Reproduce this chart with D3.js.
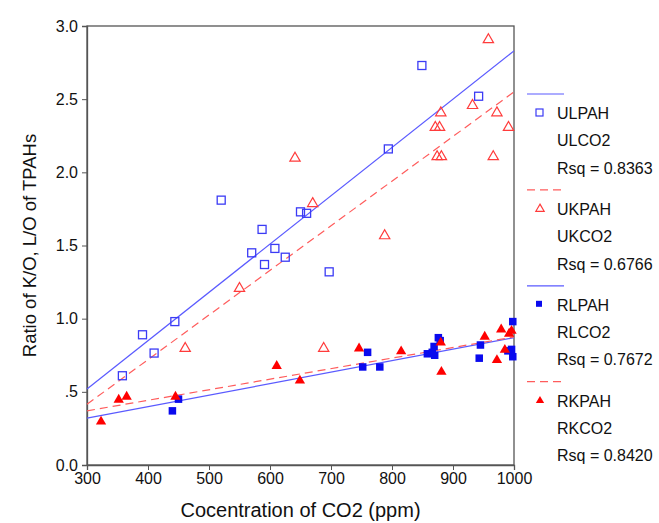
<html>
<head>
<script src="https://cdn.jsdelivr.net/npm/d3@7"></script>
<style>
  body { margin: 0; background: #fff; }
  text { font-family: Arial, "Liberation Sans", sans-serif; }
</style>
</head>
<body>
<script>
// points: [CO2 ppm, ratio]
var ulpah = [[358,0.61],[391,0.89],[410,0.765],[444,0.98],[520,1.81],[570,1.45],[587,1.61],[591,1.37],
             [608,1.48],[625,1.42],[650,1.73],[660,1.72],[697,1.32],[794,2.16],[849,2.73],[942,2.52]]
var ukpah = [[461,0.80],[550,1.21],[641,2.10],[670,1.79],[688,0.80],[788,1.57],[871,2.31],[874,2.11],
             [878,2.31],[880,2.41],[881,2.11],[932,2.46],[958,2.91],[966,2.11],[972,2.41],[991,2.31]]
var rlpah = [[440,0.37],[450,0.45],[752,0.67],[760,0.77],[780,0.67],[858,0.76],[866,0.77],[869,0.81],
             [870,0.75],[876,0.87],[879,0.85],[943,0.73],[945,0.82],[990,0.78],[996,0.79],[998,0.98],[998,0.74]]
var rkpah = [[323,0.30],[352,0.45],[365,0.47],[445,0.47],[611,0.68],[649,0.58],[746,0.80],[815,0.78],
             [880,0.84],[881,0.64],[952,0.88],[972,0.72],[979,0.93],[985,0.79],[992,0.90],[996,0.92]]

// fit lines (ends at 300 and 1000 ppm)
var fitUL = [[300,0.52],[1000,2.83]]
var fitUK = [[300,0.415],[1000,2.55]]
var fitRL = [[300,0.32],[1000,0.87]]
var fitRK = [[300,0.37],[1000,0.875]]

var xTicks = [300,400,500,600,700,800,900,1000]
var yTicks = [0,0.5,1,1.5,2,2.5,3]
var legendNames = [['ULPAH','ULCO2','Rsq = 0.8363'],['UKPAH','UKCO2','Rsq = 0.6766'],
                   ['RLPAH','RLCO2','Rsq = 0.7672'],['RKPAH','RKCO2','Rsq = 0.8420']]

var W = 659, H = 523
var margin = {top:26, left:87, right:145, bottom:58}

var blue = '#3b3bf5', red = '#ff3b3b'
var blueLine = '#5a5aff', redLine = '#ff5c5c'

var svg = d3.select('body').append('svg').attr('width',W).attr('height',H)

var x = d3.scaleLinear().domain([300,1000]).range([margin.left, W-margin.right])
var y = d3.scaleLinear().domain([0,3]).range([H-margin.bottom, margin.top])

// frame
svg.append('rect')
  .attr('x',x(300)).attr('y',y(3))
  .attr('width',x(1000)-x(300)).attr('height',y(0)-y(3))
  .attr('fill','none').attr('stroke','#555').attr('stroke-width',1.3)

var fmtY = function(d){ return d===0.5 ? '.5' : d3.format('.1f')(d) }

var gx = svg.append('g').attr('transform','translate(0,'+y(0)+')')
  .call(d3.axisBottom(x).tickValues(xTicks).tickFormat(d3.format('d')).tickSize(5).tickPadding(3))
var gy = svg.append('g').attr('transform','translate('+x(300)+',0)')
  .call(d3.axisLeft(y).tickValues(yTicks).tickFormat(fmtY).tickSize(5).tickPadding(4))
;[gx,gy].forEach(function(g){
  g.select('.domain').attr('stroke','#555').attr('stroke-width',1.3)
  g.selectAll('.tick line').attr('stroke','#555')
  g.selectAll('.tick text').attr('font-size',16).attr('fill','#111')
    .style('font-family','Arial, "Liberation Sans", sans-serif')
})

svg.append('text').attr('x',(x(300)+x(1000))/2).attr('y',517)
  .attr('text-anchor','middle').attr('font-size',20).attr('fill','#111')
  .text('Cocentration of CO2 (ppm)')
svg.append('text').attr('transform','translate(36,'+((y(0)+y(3))/2)+') rotate(-90)')
  .attr('text-anchor','middle').attr('font-size',18.5).attr('fill','#111')
  .text('Ratio of K/O, L/O of TPAHs')

var line = d3.line().x(d=>x(d[0])).y(d=>y(d[1]))

function fit(data, col, dashed){
  svg.append('path').datum(data).attr('d',line).attr('fill','none')
    .attr('stroke',col).attr('stroke-width',1.2)
    .attr('stroke-dasharray',dashed ? '8,5' : null)
}
fit(fitUL, blueLine, false)
fit(fitUK, redLine, true)
fit(fitRL, blueLine, false)
fit(fitRK, redLine, true)

var tri = d3.symbol().type(d3.symbolTriangle).size(46)

function squares(data, filled, sz){
  svg.append('g').selectAll('rect').data(data).enter().append('rect')
    .attr('x',d=>x(d[0])-sz/2).attr('y',d=>y(d[1])-sz/2)
    .attr('width',sz).attr('height',sz)
    .attr('fill',filled ? '#0a0aee' : 'none')
    .attr('stroke',filled ? 'none' : blue).attr('stroke-width',1.3)
}
function triangles(data, filled){
  svg.append('g').selectAll('path').data(data).enter().append('path')
    .attr('d',tri).attr('transform',d=>'translate('+x(d[0])+','+(y(d[1])+0.5)+')')
    .attr('fill',filled ? '#f00' : 'none')
    .attr('stroke',filled ? 'none' : red).attr('stroke-width',1.2)
}
squares(ulpah, false, 8)
triangles(ukpah, false)
squares(rlpah, true, 7.5)
triangles(rkpah, true)

// legend
var lx = 527
legendNames.forEach(function(names, i){
  var top = 94 + i*95.9
  var col = i%2===0 ? blueLine : redLine
  svg.append('line').attr('x1',lx).attr('x2',lx+37).attr('y1',top).attr('y2',top)
    .attr('stroke',col).attr('stroke-width',1.2)
    .attr('stroke-dasharray',i%2===0 ? null : '8,5')
  var sy = top + 21
  if (i===0) svg.append('rect').attr('x',536).attr('y',sy-6).attr('width',7).attr('height',7)
    .attr('fill','none').attr('stroke',blue).attr('stroke-width',1.2)
  if (i===1) svg.append('path').attr('d',d3.symbol().type(d3.symbolTriangle).size(30))
    .attr('transform','translate(540,'+(sy-2)+')').attr('fill','none').attr('stroke',red).attr('stroke-width',1.2)
  if (i===2) svg.append('rect').attr('x',536).attr('y',sy-6).attr('width',6).attr('height',6).attr('fill','#0a0aee')
  if (i===3) svg.append('path').attr('d',d3.symbol().type(d3.symbolTriangle).size(30))
    .attr('transform','translate(540,'+(sy-2)+')').attr('fill','#f00')
  names.forEach(function(t, j){
    svg.append('text').attr('x',557).attr('y',top + 25 + j*27.3)
      .attr('font-size',16).attr('fill','#111').text(t)
  })
})
</script>
</body>
</html>
